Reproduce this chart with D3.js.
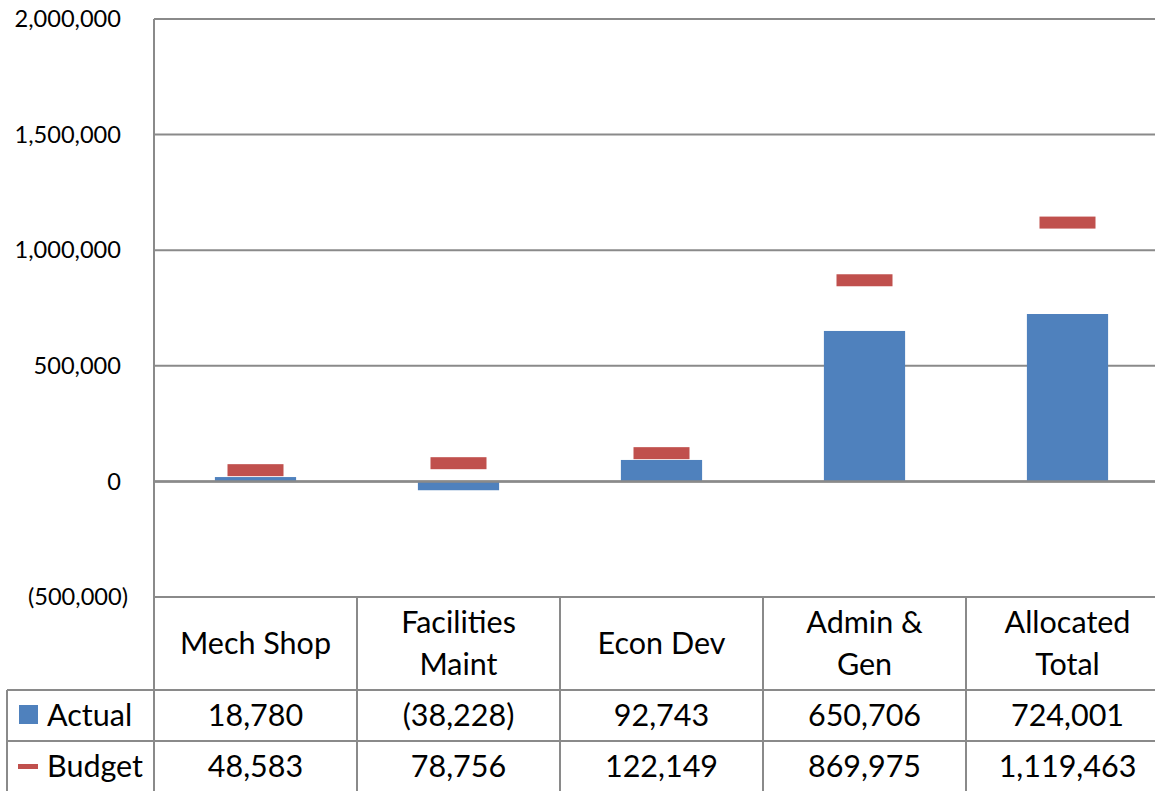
<!DOCTYPE html>
<html>
<head>
<meta charset="utf-8">
<script src="https://cdn.jsdelivr.net/npm/d3@7/dist/d3.min.js"></script>
<style>
  html, body { margin: 0; padding: 0; background: #fff; overflow: hidden; }
  svg { display: block; }
  text { font-family: Lato, "Open Sans", sans-serif; fill: #000; }
</style>
</head>
<body>
<svg id="chart" width="1155" height="791"></svg>
<script>
// Departments and their figures
const categories = ["Mech Shop", "Facilities Maint", "Econ Dev", "Admin & Gen", "Allocated Total"];
const categoryLines = [["Mech Shop"], ["Facilities", "Maint"], ["Econ Dev"], ["Admin &", "Gen"], ["Allocated", "Total"]];
const actual = [18780, -38228, 92743, 650706, 724001];
const budget = [48583, 78756, 122149, 869975, 1119463];
const yTicks = [-500000, 0, 500000, 1000000, 1500000, 2000000];

const blue = "#4F81BD";
const red = "#C0504D";
const gridColor = "#8a8a8a";

const svg = d3.select("#chart");

const plotLeft = 154, plotTop = 19, plotBottom = 597, colW = 203;
const plotRight = plotLeft + colW * categories.length;
const rowCat = 690, rowActual = 741, rowEnd = 792;
const tableFont = 30.5;

const x = d3.scaleBand().domain(categories).range([plotLeft, plotRight]).paddingInner(0.6).paddingOuter(0.3);
const xCol = d3.scaleBand().domain(categories).range([plotLeft, plotRight]);
const y = d3.scaleLinear().domain([-500000, 2000000]).range([plotBottom, plotTop]);

const fmt = d3.format(",");
const fmtVal = v => v < 0 ? "(" + fmt(-v) + ")" : fmt(v);

// Gridlines
svg.append("g").selectAll("line").data(yTicks).join("line")
  .attr("x1", plotLeft).attr("x2", 1155)
  .attr("y1", d => y(d)).attr("y2", d => y(d))
  .attr("stroke", gridColor).attr("stroke-width", 2);

// Y-axis labels (positives leave room for the closing parenthesis)
svg.append("g").selectAll("text").data(yTicks).join("text")
  .attr("x", d => d < 0 ? 128 : 121)
  .attr("y", d => y(d))
  .attr("dy", "0.35em")
  .attr("text-anchor", "end")
  .attr("font-size", 23.6)
  .text(fmtVal);

// Actual bars
svg.append("g").selectAll("rect").data(categories).join("rect")
  .attr("x", d => x(d))
  .attr("width", x.bandwidth())
  .attr("y", (d, i) => Math.min(y(actual[i]), y(0)))
  .attr("height", (d, i) => Math.abs(y(actual[i]) - y(0)))
  .attr("fill", blue);

// Zero line
svg.append("line")
  .attr("x1", plotLeft).attr("x2", 1155)
  .attr("y1", y(0)).attr("y2", y(0))
  .attr("stroke", gridColor).attr("stroke-width", 2.5);

// Budget dash markers
const dashW = 56, dashH = 12;
svg.append("g").selectAll("rect").data(categories).join("rect")
  .attr("x", d => xCol(d) + xCol.bandwidth() / 2 - dashW / 2)
  .attr("y", (d, i) => y(budget[i]) - dashH / 2)
  .attr("width", dashW).attr("height", dashH)
  .attr("fill", red);

// Data table grid
const grid = svg.append("g").attr("stroke", gridColor).attr("stroke-width", 2);
grid.append("line").attr("x1", plotLeft).attr("x2", plotLeft).attr("y1", plotTop).attr("y2", rowEnd);
grid.selectAll(".vd").data(categories.slice(1)).join("line")
  .attr("x1", d => xCol(d)).attr("x2", d => xCol(d))
  .attr("y1", plotBottom).attr("y2", rowEnd);
grid.append("line").attr("x1", 7).attr("x2", 1155).attr("y1", rowCat).attr("y2", rowCat);
grid.append("line").attr("x1", 7).attr("x2", 1155).attr("y1", rowActual).attr("y2", rowActual);
grid.append("line").attr("x1", 7).attr("x2", 7).attr("y1", rowCat).attr("y2", rowEnd);

// Category labels
const catG = svg.append("g").selectAll("text").data(categories).join("text")
  .attr("text-anchor", "middle")
  .attr("font-size", tableFont);
catG.each(function(d, i) {
  const lines = categoryLines[i];
  const cx = xCol(d) + xCol.bandwidth() / 2;
  const lh = 42;
  const mid = (plotBottom + rowCat) / 2;
  const start = mid - (lines.length - 1) * lh / 2;
  d3.select(this).selectAll("tspan").data(lines).join("tspan")
    .attr("x", cx)
    .attr("y", (l, k) => start + k * lh)
    .attr("dy", "0.35em")
    .text(l => l);
});

// Value rows
const rows = [
  { name: "Actual", values: actual, top: rowCat, bottom: rowActual },
  { name: "Budget", values: budget, top: rowActual, bottom: rowEnd }
];
rows.forEach(r => {
  const cy = (r.top + r.bottom) / 2;
  svg.append("g").selectAll("text").data(categories).join("text")
    .attr("x", d => xCol(d) + xCol.bandwidth() / 2)
    .attr("y", cy)
    .attr("dy", "0.35em")
    .attr("text-anchor", "middle")
    .attr("font-size", tableFont)
    .text((d, i) => fmtVal(r.values[i]));
  svg.append("text")
    .attr("x", 47).attr("y", cy).attr("dy", "0.35em")
    .attr("font-size", tableFont)
    .text(r.name);
});

// Legend keys
svg.append("rect").attr("x", 19).attr("y", 705).attr("width", 19).attr("height", 19).attr("fill", blue);
svg.append("rect").attr("x", 18).attr("y", 764).attr("width", 20).attr("height", 5).attr("fill", red);
</script>
</body>
</html>
